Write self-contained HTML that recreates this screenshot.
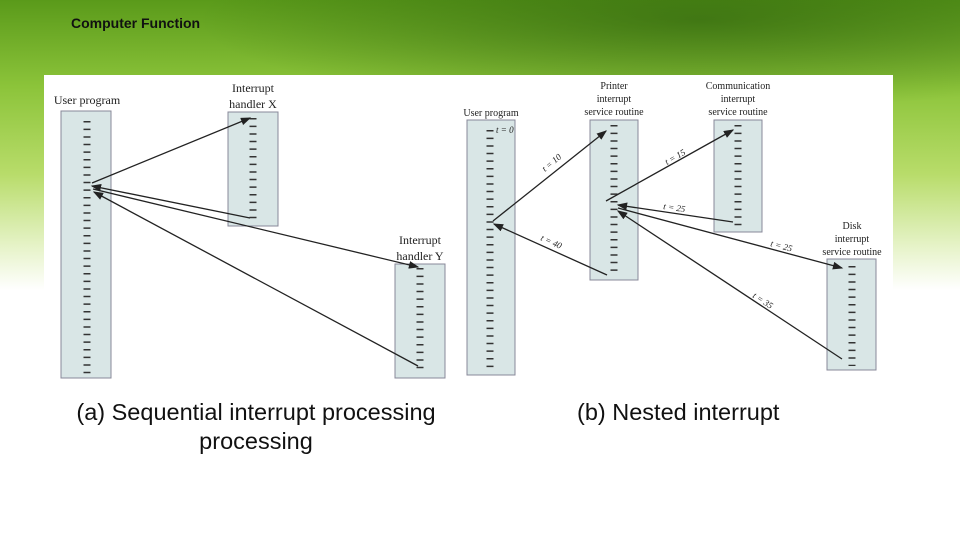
<!DOCTYPE html>
<html><head><style>
body{margin:0;width:960px;height:540px;overflow:hidden;position:relative;font-family:"Liberation Sans",sans-serif;background:#fff}
.bg{position:absolute;left:0;top:0;width:960px;height:290px;background:linear-gradient(180deg,#5a9a1a 0%,#8cc43a 30%,#b8dc6a 60%,#e6f3c8 85%,#fff 100%)}
.bg2{position:absolute;left:0;top:0;width:960px;height:120px;background:radial-gradient(ellipse 500px 90px at 700px 20px,rgba(40,90,10,.6),rgba(0,0,0,0))}
.title{position:absolute;left:71px;top:15px;font-size:14px;font-weight:bold;color:#111}
.cap{position:absolute;font-size:23.5px;color:#111;text-align:center;line-height:29px}
</style></head><body>
<div class="bg"></div><div class="bg2"></div>
<div class="title">Computer Function</div>
<svg style="position:absolute;left:0;top:0" width="960" height="540">
<defs><marker id="a" markerWidth="8" markerHeight="6" refX="7" refY="3" orient="auto"><path d="M0,0L8,3L0,6z" fill="#222"/></marker></defs>
<rect x="44" y="75" width="849" height="305" fill="#fff"/>
<g font-family="Liberation Serif,serif" font-size="12" fill="#222" text-anchor="middle">
<text x="87" y="104">User program</text>
<text x="253" y="92">Interrupt</text><text x="253" y="108">handler X</text>
<text x="420" y="244">Interrupt</text><text x="420" y="260">handler Y</text>
<text x="491" y="116" font-size="10">User program</text>
<text x="614" y="89" font-size="10">Printer</text><text x="614" y="102" font-size="10">interrupt</text><text x="614" y="115" font-size="10">service routine</text>
<text x="738" y="89" font-size="10">Communication</text><text x="738" y="102" font-size="10">interrupt</text><text x="738" y="115" font-size="10">service routine</text>
<text x="852" y="229" font-size="10">Disk</text><text x="852" y="242" font-size="10">interrupt</text><text x="852" y="255" font-size="10">service routine</text>
</g>
<g stroke="#889" stroke-width="1" fill="#d9e6e6">
<rect x="61" y="111" width="50" height="267"/><rect x="228" y="112" width="50" height="114"/><rect x="395" y="264" width="50" height="114"/>
<rect x="467" y="120" width="48" height="255"/><rect x="590" y="120" width="48" height="160"/><rect x="714" y="120" width="48" height="112"/><rect x="827" y="259" width="49" height="111"/>
</g>
<g stroke="#333" stroke-width="7" stroke-dasharray="1.5 6.1">
<path d="M87,121V374"/>
<path d="M253,118V220"/>
<path d="M420,268V374"/>
<path d="M490,130V372"/>
<path d="M614,125V276"/>
<path d="M738,125V228"/>
<path d="M852,266V366"/>
</g>
<g stroke="#222" stroke-width="1.3" fill="none" marker-end="url(#a)">
<path d="M92,183L250,118"/><path d="M250,218L92,186"/><path d="M93,189L418,267"/><path d="M418,366L94,192"/>
<path d="M493,221L606,131"/><path d="M606,201L733,130"/><path d="M733,222L618,205"/><path d="M618,208L842,268"/><path d="M842,359L618,211"/><path d="M607,275L494,224"/>
</g>
<g font-family="Liberation Serif,serif" font-size="9" font-style="italic" fill="#222">
<text x="496" y="133">t = 0</text>
<text x="545" y="172" transform="rotate(-40 545 172)">t = 10</text>
<text x="667" y="165" transform="rotate(-30 667 165)">t = 15</text>
<text x="663" y="209" transform="rotate(8 663 209)">t = 25</text>
<text x="770" y="246" transform="rotate(15 770 246)">t = 25</text>
<text x="752" y="297" transform="rotate(33 752 297)">t = 35</text>
<text x="540" y="240" transform="rotate(24 540 240)">t = 40</text>
</g>
</svg>
<div class="cap" style="left:56px;top:398px;width:400px">(a) Sequential interrupt processing<br>processing</div>
<div class="cap" style="left:577px;top:398px">(b) Nested interrupt</div>
</body></html>
